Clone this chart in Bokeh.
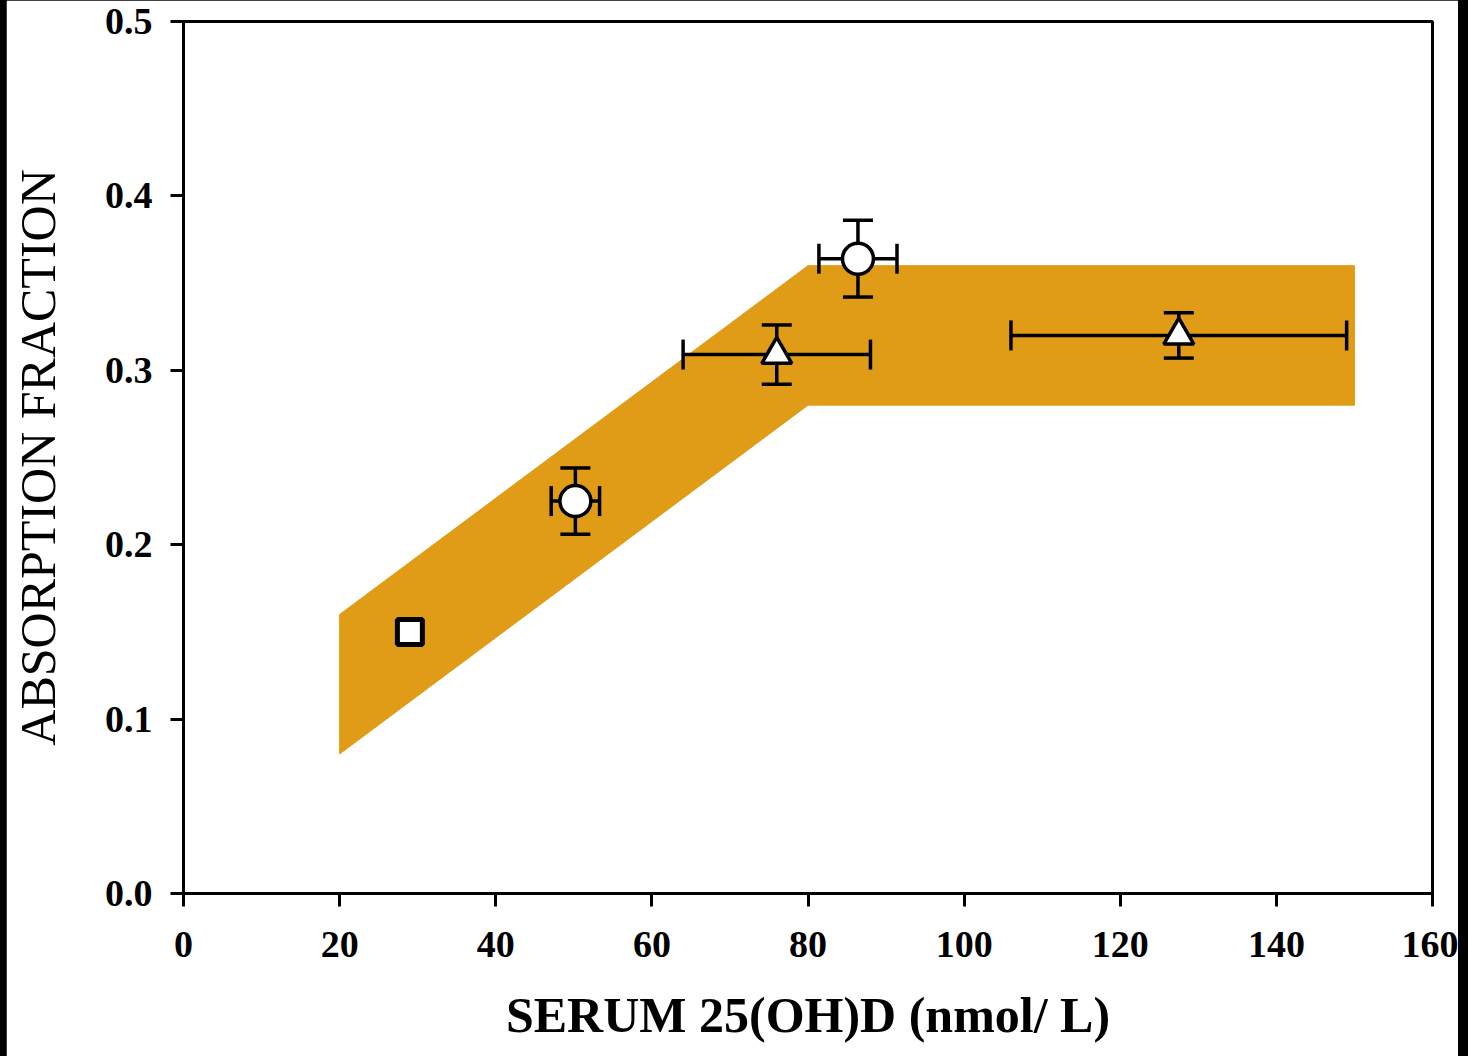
from bokeh.plotting import figure
from bokeh.models import (Range1d, Whisker, TeeHead, ColumnDataSource, FixedTicker,
                          PrintfTickFormatter, Column)
from bokeh.embed import file_html
from bokeh.resources import INLINE

# ---- data ----
band_x = [20, 20, 80, 150, 150, 80]
band_y = [0.08, 0.16, 0.36, 0.36, 0.28, 0.28]

square_x = [29.0]
square_y = [0.150]

circle_x = [50.2, 86.4]
circle_y = [0.225, 0.364]
circle_xerr = [3.1, 5.0]
circle_yerr = [0.019, 0.022]

triangle_x = [76.0, 127.5]
triangle_y = [0.309, 0.320]
triangle_xerr = [12.0, 21.5]
triangle_yerr = [0.017, 0.013]

x_ticks = [0, 20, 40, 60, 80, 100, 120, 140, 160]
y_ticks = [0.0, 0.1, 0.2, 0.3, 0.4, 0.5]

x_label = "SERUM 25(OH)D (nmol/ L)"
y_label = "ABSORPTION FRACTION"

BAND = "#E09C16"
FONT = "Liberation Serif"

W, H = 1452, 1056
p = figure(width=W, height=H,
           x_range=Range1d(0, 160), y_range=Range1d(0, 0.5),
           output_backend="svg", toolbar_location=None,
           min_border_left=177, min_border_top=21,
           min_border_right=26, min_border_bottom=163)
p.margin = (0, 10, 0, 6)
p.background_fill_color = "white"
p.border_fill_color = "white"
p.grid.visible = False
p.outline_line_color = "black"
p.outline_line_width = 3

p.patch(band_x, band_y, fill_color=BAND, line_color=BAND, line_width=1)

def err_sources(xs, ys, xe, ye):
    v = ColumnDataSource(dict(base=xs, lower=[y - e for y, e in zip(ys, ye)],
                              upper=[y + e for y, e in zip(ys, ye)]))
    h = ColumnDataSource(dict(base=ys, lower=[x - e for x, e in zip(xs, xe)],
                              upper=[x + e for x, e in zip(xs, xe)]))
    return v, h

for xs, ys, xe, ye in [(circle_x, circle_y, circle_xerr, circle_yerr),
                       (triangle_x, triangle_y, triangle_xerr, triangle_yerr)]:
    v, h = err_sources(xs, ys, xe, ye)
    for src, dim in [(v, "height"), (h, "width")]:
        w = Whisker(source=src, base="base", lower="lower", upper="upper",
                    dimension=dim, line_color="black", line_width=3.5,
                    level="annotation",
                    upper_head=TeeHead(size=30, line_width=3.5, line_color="black"),
                    lower_head=TeeHead(size=30, line_width=3.5, line_color="black"))
        p.add_layout(w)

p.scatter(square_x, square_y, marker="square", size=25, fill_color="white",
          line_color="black", line_width=5, level="overlay")
p.scatter(circle_x, circle_y, marker="circle", size=31, fill_color="white",
          line_color="black", line_width=3.5, level="overlay")
p.scatter(triangle_x, triangle_y, marker="triangle", size=30, fill_color="white",
          line_color="black", line_width=3.5, level="overlay")

for ax in (p.xaxis[0], p.yaxis[0]):
    ax.axis_line_width = 3
    ax.axis_line_color = "black"
    ax.major_tick_line_width = 3
    ax.major_tick_line_color = "black"
    ax.major_tick_in = 0
    ax.major_tick_out = 13
    ax.minor_tick_line_color = None
    ax.major_label_text_font = FONT
    ax.major_label_text_font_style = "bold"
    ax.major_label_text_font_size = "38px"
    ax.major_label_text_color = "black"
    ax.axis_label_text_font = FONT
    ax.axis_label_text_color = "black"
    ax.axis_label_text_font_size = "50px"

p.xaxis.ticker = FixedTicker(ticks=x_ticks)
p.yaxis.ticker = FixedTicker(ticks=y_ticks)
p.yaxis.formatter = PrintfTickFormatter(format="%.1f")

p.xaxis.axis_label = x_label
p.xaxis.axis_label_text_font_style = "bold"
p.xaxis.major_label_standoff = 25
p.xaxis.axis_label_standoff = 27

p.yaxis.axis_label = y_label
p.yaxis.axis_label_text_font_style = "normal"
p.yaxis.major_label_standoff = 18
p.yaxis.axis_label_standoff = 36

layout = Column(p, width=1468, height=1056, styles={"background-color": "black"})

open("out.html", "w").write(file_html(layout, INLINE))
